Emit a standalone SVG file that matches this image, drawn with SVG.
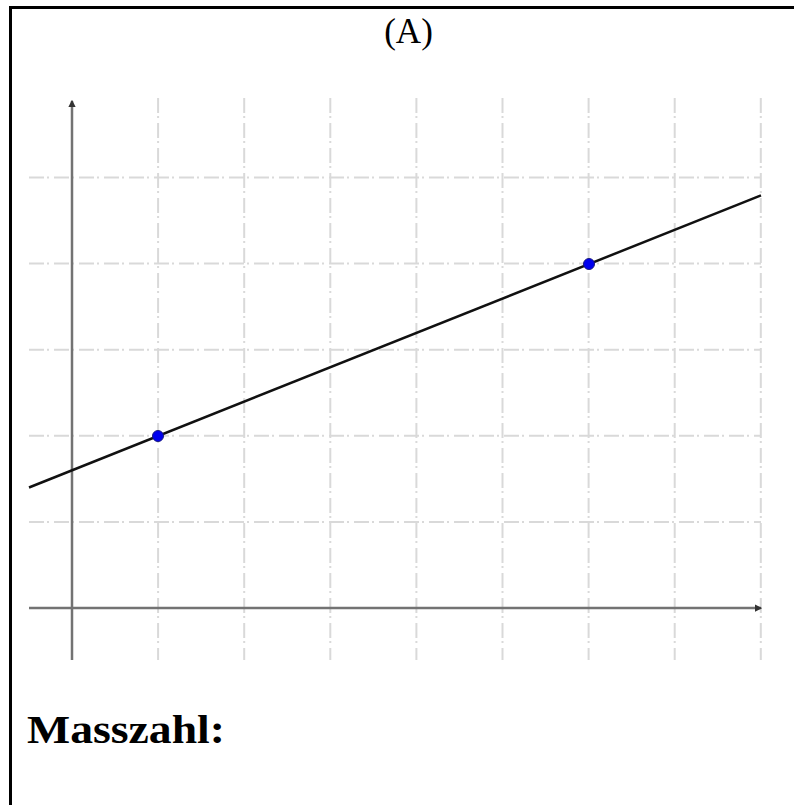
<svg xmlns="http://www.w3.org/2000/svg" width="794" height="805" viewBox="0 0 794 805">
<style>
.grid{stroke:#d9d9d9;stroke-width:2;stroke-dasharray:15 3 2 5;fill:none}
.axis{stroke:#737373;stroke-width:2.5;fill:none}
.line{stroke:#111;stroke-width:2.5;fill:none}
.pt{fill:#0000ee;stroke:#1a1a80;stroke-width:1}
.t{font-family:"Liberation Serif","DejaVu Serif",serif;fill:#000}
</style>
<defs>
<marker id="ah" viewBox="0 0 6 6" refX="5" refY="3" markerWidth="3" markerHeight="3" orient="auto" markerUnits="strokeWidth">
<path d="M0,0 L6,3 L0,6 Z" fill="#333"/>
</marker>
</defs>
<rect x="10.5" y="7.5" width="800" height="820" fill="#fff" stroke="#000" stroke-width="3"/>
<g id="title"><text class="t" x="408.5" y="43" font-size="35" text-anchor="middle">(A)</text></g>
<g id="grid">
<line class="grid" x1="158.1" y1="98" x2="158.1" y2="660"/>
<line class="grid" x1="244.2" y1="98" x2="244.2" y2="660"/>
<line class="grid" x1="330.3" y1="98" x2="330.3" y2="660"/>
<line class="grid" x1="416.4" y1="98" x2="416.4" y2="660"/>
<line class="grid" x1="502.5" y1="98" x2="502.5" y2="660"/>
<line class="grid" x1="588.6" y1="98" x2="588.6" y2="660"/>
<line class="grid" x1="674.7" y1="98" x2="674.7" y2="660"/>
<line class="grid" x1="760.8" y1="98" x2="760.8" y2="660"/>
<line class="grid" x1="29" y1="177.5" x2="761" y2="177.5"/>
<line class="grid" x1="29" y1="263.6" x2="761" y2="263.6"/>
<line class="grid" x1="29" y1="349.7" x2="761" y2="349.7"/>
<line class="grid" x1="29" y1="435.8" x2="761" y2="435.8"/>
<line class="grid" x1="29" y1="521.9" x2="761" y2="521.9"/>
</g>
<g id="axes">
<line class="axis" x1="72" y1="660" x2="72" y2="101" marker-end="url(#ah)"/>
<line class="axis" x1="29" y1="608" x2="761" y2="608" marker-end="url(#ah)"/>
</g>
<g id="connectors">
<line class="line" x1="29" y1="487.5" x2="761" y2="195.4"/>
</g>
<g id="point1"><circle class="pt" cx="158" cy="436" r="5.5"/></g>
<g id="point2"><circle class="pt" cx="589" cy="264" r="5.5"/></g>
<g id="label"><text class="t" x="27" y="743" font-size="41" font-weight="bold" textLength="198" lengthAdjust="spacingAndGlyphs">Masszahl:</text></g>
</svg>
